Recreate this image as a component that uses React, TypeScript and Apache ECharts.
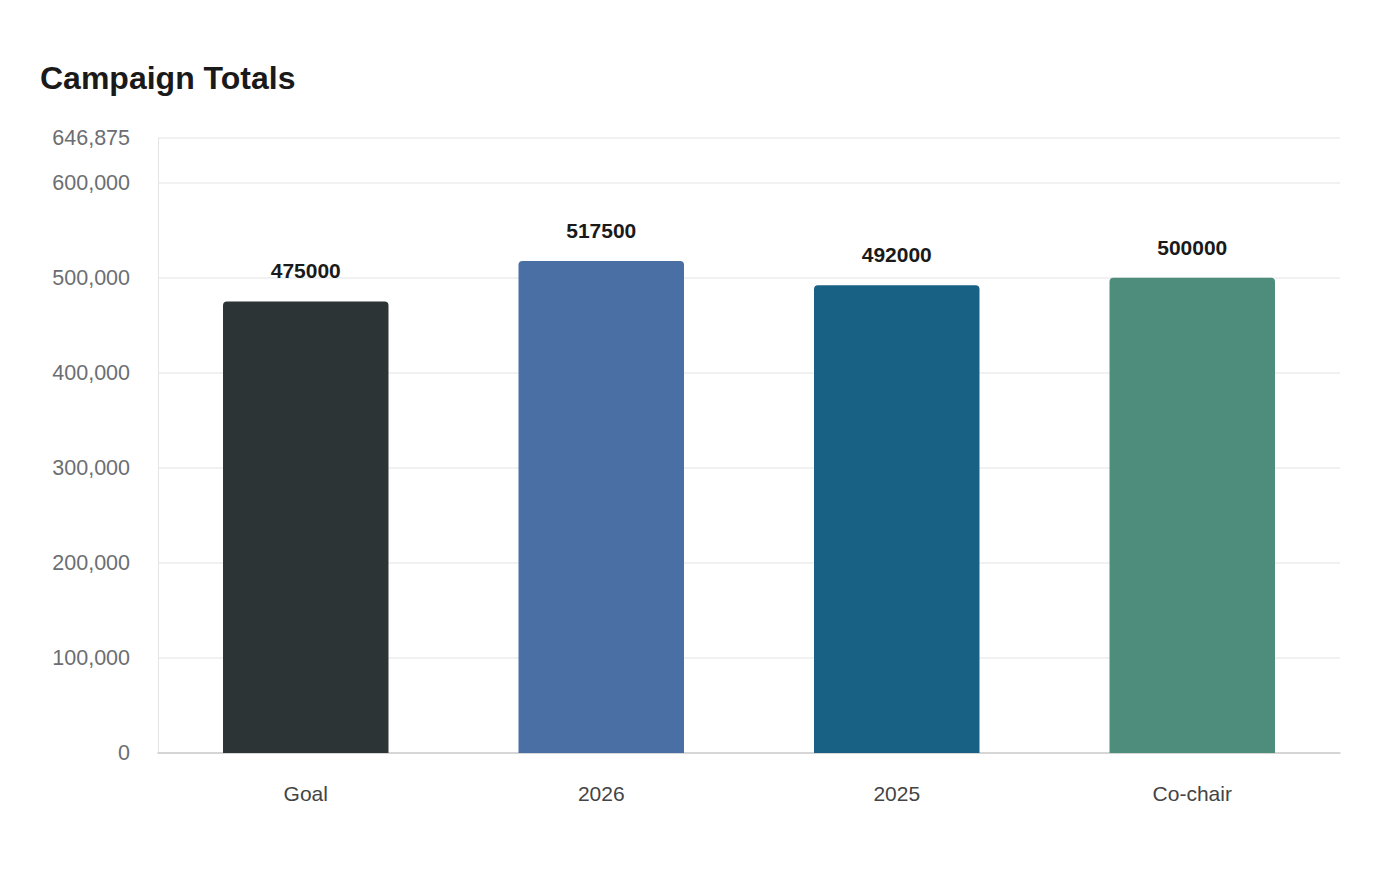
import { useEffect, useRef } from 'react';
import * as echarts from 'echarts';

const categories = ['Goal', '2026', '2025', 'Co-chair'];
const totals = [475000, 517500, 492000, 500000];
const barColors = ['#2d3436', '#4a6fa5', '#186185', '#4e8c7b'];
const axisMax = 646875;

const FONT = '"Liberation Sans", Arial, sans-serif';

export default function App() {
  const ref = useRef<HTMLDivElement>(null);

  useEffect(() => {
    document.body.style.margin = '0';
    if (!ref.current) {
      return undefined;
    }

    const chart = echarts.init(ref.current, undefined, { renderer: 'svg' });
    const option: echarts.EChartsOption = {
      animation: false,
      backgroundColor: '#ffffff',
      textStyle: { fontFamily: FONT },
      title: {
        text: 'Campaign Totals',
        left: 35,
        top: 57,
        textStyle: { color: '#1a1a1a', fontSize: 32, fontWeight: 'bold', fontFamily: FONT },
      },
      grid: { left: 158, right: 60, top: 138, bottom: 127 },
      xAxis: {
        type: 'category',
        data: categories,
        axisLine: { lineStyle: { color: '#cccccc', width: 1.5 } },
        axisTick: { show: false },
        axisLabel: { color: '#444444', fontSize: 21, margin: 30, fontFamily: FONT },
      },
      yAxis: {
        type: 'value',
        min: 0,
        max: axisMax,
        interval: 100000,
        axisLine: { show: true, lineStyle: { color: '#e4e4e4' } },
        axisTick: { show: false },
        splitLine: { lineStyle: { color: '#ececec', width: 1.5 } },
        axisLabel: {
          color: '#6b6e72',
          fontSize: 21.5,
          margin: 28,
          fontFamily: FONT,
          showMaxLabel: true,
          formatter: (v: number) => v.toLocaleString('en-US'),
        },
      },
      series: [
        {
          type: 'bar',
          barWidth: '56%',
          data: totals.map((value, i) => ({ value, itemStyle: { color: barColors[i] } })),
          itemStyle: { borderRadius: [4, 4, 0, 0] },
          label: {
            show: true,
            position: 'top',
            distance: 20,
            color: '#1a1a1a',
            fontSize: 21,
            fontWeight: 'bold',
            fontFamily: FONT,
          },
        },
      ],
    };

    chart.setOption(option);
    return () => {
      chart.dispose();
    };
  }, []);

  return <div ref={ref} style={{ width: 1400, height: 880 }} />;
}
